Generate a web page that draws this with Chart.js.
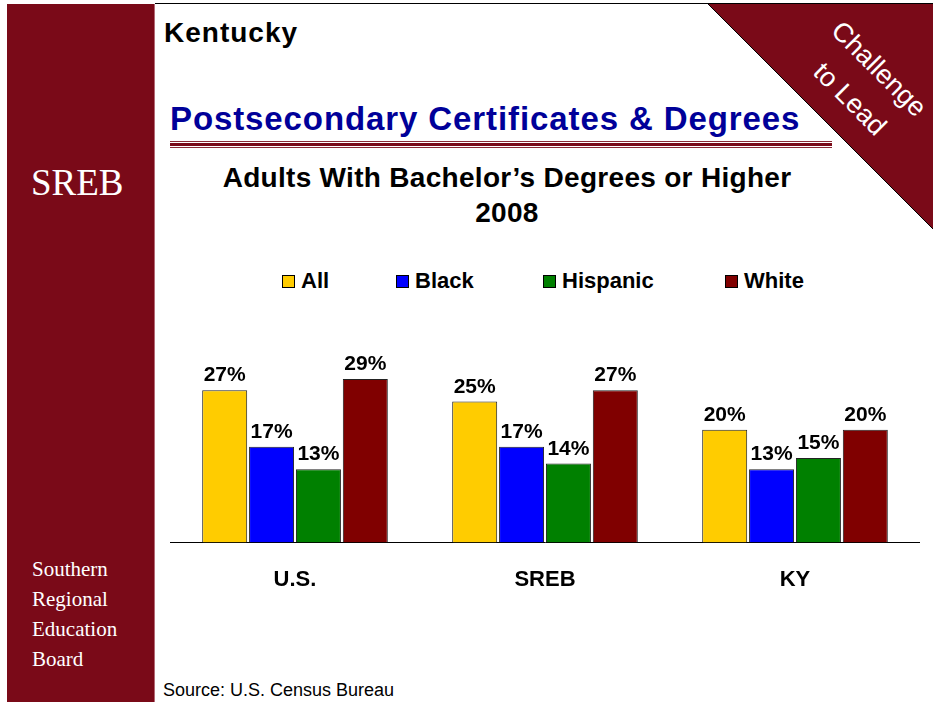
<!DOCTYPE html>
<html>
<head>
<meta charset="utf-8">
<title>Kentucky - Adults With Bachelor's Degrees or Higher</title>
<script src="https://cdn.jsdelivr.net/npm/chart.js@4.4.1/dist/chart.umd.min.js"></script>
<style>
    body {
        margin: 0;
        width: 933px;
        height: 702px;
        position: relative;
        overflow: hidden;
        background: #fff;
        font-family: "Liberation Sans", Arial, sans-serif;
    }
    .abs { position: absolute; white-space: nowrap; }
    #topline { left: 155px; top: 3px; width: 778px; height: 1px; background: #000; }
    #sidebar { left: 7px; top: 4px; width: 147px; height: 698px; background: #7a0a18; border-right: 1px solid #b46a76; }
    #sreb { left: 31px; top: 161px; font: 37px "Liberation Serif", "Times New Roman", serif; color: #fff; }
    #board { left: 32px; top: 554px; font: 21px/30px "Liberation Serif", "Times New Roman", serif; color: #fff; }
    #state { left: 164px; top: 17px; font: bold 28px "Liberation Sans", Arial, sans-serif; letter-spacing: 1px; color: #000; }
    #heading { left: 170px; top: 100px; font: bold 33px "Liberation Sans", Arial, sans-serif; letter-spacing: 0.9px; color: #000099; }
    #rule1 { left: 170px; top: 141px; width: 662px; height: 1px; background: #8a2a36; }
    #rule2 { left: 170px; top: 143px; width: 662px; height: 3px; background: #7a0a18; }
    #rule3 { left: 170px; top: 147px; width: 662px; height: 1px; background: #8a2a36; }
    #chartTitle { left: 170px; top: 160px; width: 674px; text-align: center; font: bold 28px/35px "Liberation Sans", Arial, sans-serif; letter-spacing: 0.3px; color: #000; }
    #legend { left: 0; top: 268px; width: 933px; height: 26px; }
    .item { position: absolute; top: 0; height: 26px; display: flex; align-items: center; font: bold 22px "Liberation Sans", Arial, sans-serif; }
    .box { width: 11px; height: 11px; border: 1px solid #000; margin-right: 6px; }
    #chartBox { left: 170px; top: 300px; width: 750px; height: 325px; }
    #source { left: 163px; top: 680px; font: 18px "Liberation Sans", Arial, sans-serif; color: #000; }
    #corner { left: 0; top: 0; }
</style>
</head>
<body>
<div id="topline" class="abs"></div>
<div id="sidebar" class="abs"></div>
<div id="sreb" class="abs">SREB</div>
<div id="board" class="abs">Southern<br>Regional<br>Education<br>Board</div>

<svg id="corner" class="abs" width="933" height="702">
    <polygon points="708,4 933,4 933,229" fill="#7a0a18"/>
    <line x1="708" y1="4" x2="933" y2="229" stroke="#000" stroke-width="1"/>
    <text x="879" y="78" fill="#fff" font-family="Liberation Sans, Arial, sans-serif" font-size="27" text-anchor="middle" transform="rotate(45 879 69)">Challenge</text>
    <text x="850" y="108" fill="#fff" font-family="Liberation Sans, Arial, sans-serif" font-size="27" text-anchor="middle" transform="rotate(45 850 99)">to Lead</text>
</svg>

<div id="state" class="abs">Kentucky</div>
<div id="heading" class="abs">Postsecondary Certificates &amp; Degrees</div>
<div id="rule1" class="abs"></div>
<div id="rule2" class="abs"></div>
<div id="rule3" class="abs"></div>
<div id="chartTitle" class="abs">Adults With Bachelor’s Degrees or Higher<br>2008</div>
<div id="legend" class="abs"></div>
<div id="chartBox" class="abs"><canvas id="chart"></canvas></div>
<div id="source" class="abs">Source: U.S. Census Bureau</div>

<script>
// chart data
const regions = ['U.S.', 'SREB', 'KY'];
const seriesNames = ['All', 'Black', 'Hispanic', 'White'];
const allAdults = [27, 25, 20];
const blackAdults = [17, 17, 13];
const hispanicAdults = [13, 14, 15];
const whiteAdults = [29, 27, 20];

const seriesColors = ['#ffcc00', '#0000ff', '#008000', '#800000'];
const legendLeft = [282, 396, 543, 725];

// legend drawn as html, one item per dataset
const legend = document.getElementById('legend');
seriesNames.forEach(function (name, i) {
    const item = document.createElement('div');
    item.className = 'item';
    item.style.left = legendLeft[i] + 'px';
    item.innerHTML = '<span class="box" style="background:' + seriesColors[i] + '"></span>' + name;
    legend.appendChild(item);
});

// percent labels above each bar
const valueLabels = {
    id: 'valueLabels',
    afterDatasetsDraw(chart) {
        const ctx = chart.ctx;
        ctx.save();
        ctx.font = 'bold 21px "Liberation Sans", Arial, sans-serif';
        ctx.fillStyle = '#000';
        ctx.textAlign = 'center';
        ctx.textBaseline = 'alphabetic';
        chart.data.datasets.forEach(function (ds, i) {
            chart.getDatasetMeta(i).data.forEach(function (bar, j) {
                ctx.fillText(ds.data[j] + '%', bar.x, bar.y - 9);
            });
        });
        ctx.restore();
    }
};

const values = [allAdults, blackAdults, hispanicAdults, whiteAdults];

const ctx = document.getElementById('chart').getContext('2d');
const chart = new Chart(ctx, {
    type: 'bar',
    data: {
        labels: regions,
        datasets: seriesNames.map(function (name, i) {
            return {
                label: name,
                data: values[i],
                backgroundColor: seriesColors[i],
                borderColor: '#222',
                borderWidth: 1,
                categoryPercentage: 0.75,
                barPercentage: 0.96
            };
        })
    },
    options: {
        responsive: true,
        maintainAspectRatio: false,
        animation: false,
        layout: { padding: { top: 0, bottom: 8, left: 0, right: 0 } },
        plugins: {
            legend: { display: false },
            tooltip: { enabled: false }
        },
        scales: {
            x: {
                grid: { display: false, drawTicks: false },
                border: { display: true, color: '#000', width: 1 },
                ticks: {
                    color: '#000',
                    padding: 24,
                    font: { family: '"Liberation Sans", Arial, sans-serif', size: 22, weight: 'bold' }
                }
            },
            y: {
                display: false,
                min: 0,
                max: 43
            }
        }
    },
    plugins: [valueLabels]
});
</script>
</body>
</html>
